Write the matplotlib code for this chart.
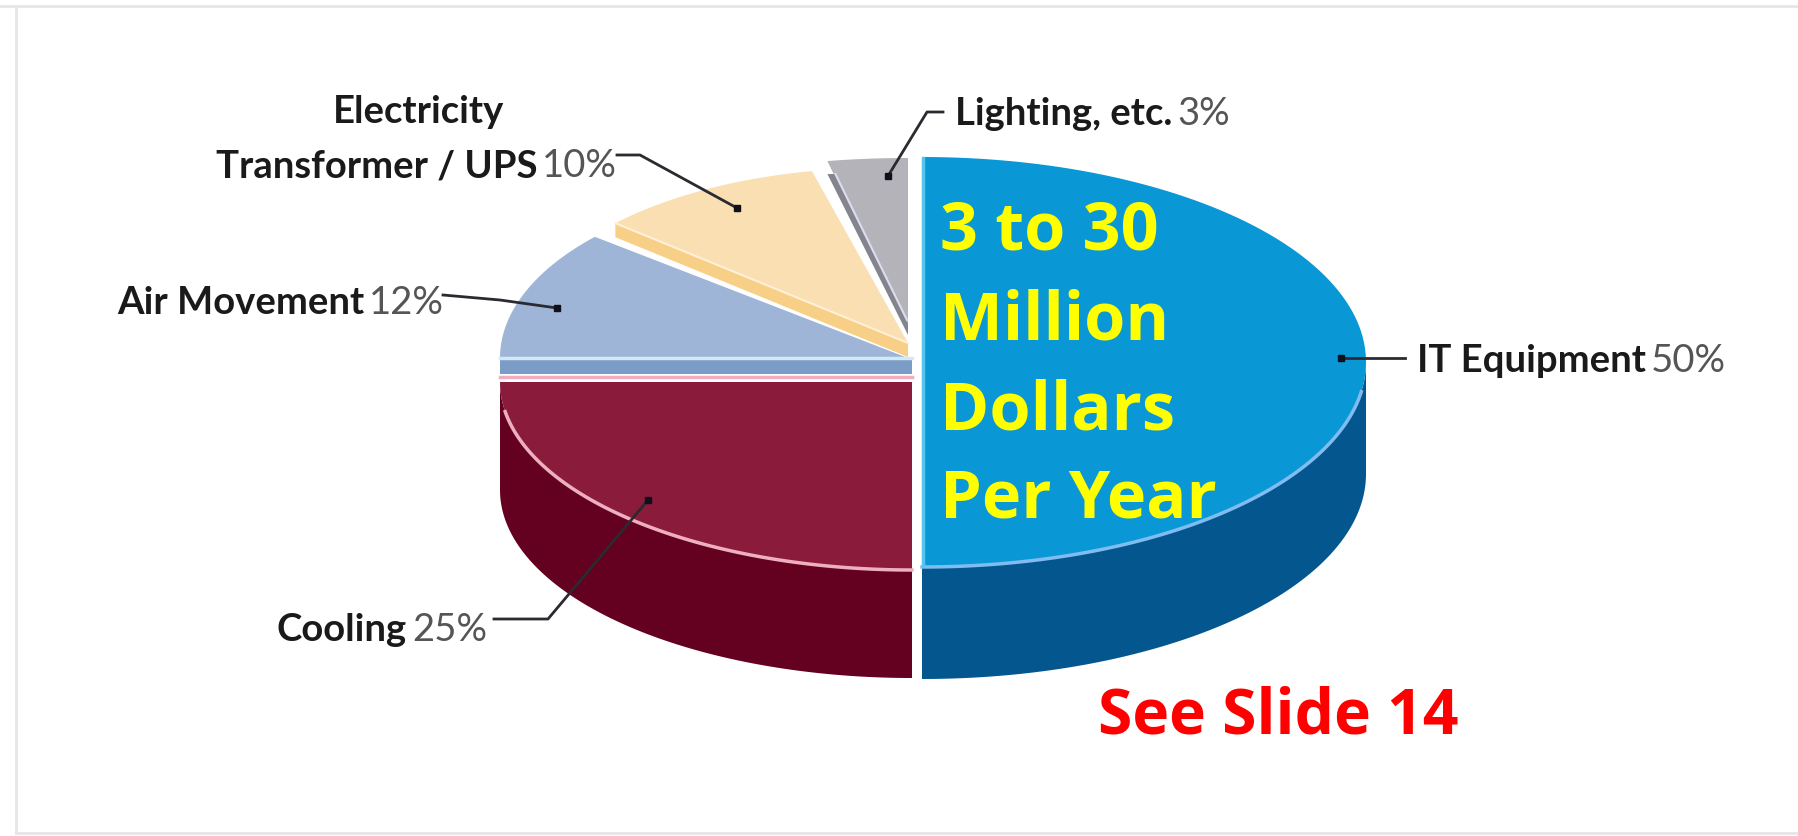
import numpy as np
import matplotlib
matplotlib.use("Agg")
import matplotlib.pyplot as plt
from matplotlib.patches import Polygon

# chart values, clockwise from 12 o'clock
names = ["IT Equipment", "Cooling", "Air Movement", "Transformer / UPS", "Lighting, etc."]
values = [50, 25, 12, 10, 3]

top_colors = ["#0a97d6", "#8a1b3b", "#9eb5d8", "#f9dfb2", "#b3b3b9"]
side_colors = ["#04568f", "#640020", "#7a9cc6", "#f8cf86", "#84848f"]
rim_colors = ["#7fbcf0", "#eeb0c0", "#d4e8f8", "#fff0d8", "#dcdcee"]

# each slice has its own ellipse and tip, the picture is a hand drawn 3d pie
centers = [(922, 362), (912, 382), (850, 358), (880, 343), (908, 330)]
radii = [(444, 205), (412, 188), (350, 177), (363, 175), (430, 172)]
tips = [(922, 362), (912, 382), (908, 358), (908, 343), (908, 330)]
depths = [112, 108, 16, 14, 0]

overlay_lines = ["3 to 30", "Million", "Dollars", "Per Year"]
overlay_base = [249, 340, 430, 518]

plt.rcParams["font.family"] = ["Lato", "Liberation Sans", "DejaVu Sans"]

fig = plt.figure(figsize=(17.99, 8.36), dpi=100, facecolor="white")
ax = fig.add_axes([0, 0, 1, 1])
ax.set_xlim(0, 1799)
ax.set_ylim(836, 0)
ax.axis("off")

# the slide frame
ax.plot([0, 1799], [6, 6], color="#e6e6e6", lw=2)
ax.plot([16, 16], [6, 833], color="#e6e6e6", lw=2)
ax.plot([16, 1799], [833, 833], color="#e6e6e6", lw=2)


def arc(i, t0, t1, n=120, dy=0):
    t = np.radians(np.linspace(t0, t1, n))
    cx, cy = centers[i]
    rx, ry = radii[i]
    return np.column_stack([cx + rx * np.sin(t), cy - ry * np.cos(t) + dy])


edges = np.concatenate([[0], np.cumsum(values)]) * 3.6

# back to front
for i in [4, 3, 2, 1, 0]:
    t0, t1 = edges[i], edges[i + 1]
    tx, ty = tips[i]
    top = arc(i, t0, t1)
    a = top[0]

    ax.add_patch(Polygon(np.vstack([[tx, ty], top]), closed=True,
                         fc=top_colors[i], ec="none", zorder=3))

    if i <= 1:
        # round outer wall, the IT slice only shows it on the lower quarter
        t_a = t0 + 90 if i == 0 else t0
        upper = arc(i, t_a, t1)
        lower = arc(i, t_a, t1, dy=depths[i])
        ax.add_patch(Polygon(np.vstack([upper, lower[::-1]]), closed=True,
                             fc=side_colors[i], ec="none", zorder=2))
        rim = arc(i, t_a, t1)
        rim = rim[rim[:, 1] > ty + 28]
        ax.plot(rim[:, 0], rim[:, 1], color=rim_colors[i], lw=2.5, zorder=4)
    elif i == 2:
        # flat front cut showing under the blue slice
        left = a[0]
        ax.add_patch(Polygon([(left, ty), (tx + 4, ty), (tx + 4, ty + depths[i]), (left, ty + depths[i])],
                             closed=True, fc=side_colors[i], ec="none", zorder=2))
        ax.plot([left, tx + 4], [ty, ty], color=rim_colors[i], lw=2.5, zorder=4)
        ax.plot([left, tx + 4], [ty + 19, ty + 19], color=rim_colors[1], lw=2.5, zorder=4)
    elif i == 3:
        ax.add_patch(Polygon([(a[0], a[1]), (tx, ty), (tx, ty + depths[i]), (a[0], a[1] + depths[i])],
                             closed=True, fc=side_colors[i], ec="none", zorder=2))
        ax.plot([a[0], tx], [a[1], ty], color=rim_colors[i], lw=1.5, zorder=4)
    else:
        # dark cut and white line down the left side of the grey slice
        ax.add_patch(Polygon([(a[0], a[1] + 13), (tx, ty + 5), (tx, ty - 6), (a[0] + 7, a[1] + 13)],
                             closed=True, fc=side_colors[i], ec="none", zorder=4))
        ax.plot([a[0] + 8, tx - 1], [a[1] + 13, ty - 10], color=rim_colors[i], lw=1.5, zorder=5)

# cyan lip on the IT slice
ax.plot([centers[0][0] + 1, centers[0][0] + 1], [158, 565], color="#55c4ee", lw=2.5, zorder=4)

# leader lines, ending on a small dot inside the slice
leaders = [
    [(1405, 358), (1341, 358)],
    [(494, 619), (548, 619), (648, 500)],
    [(443, 295), (500, 300), (557, 308)],
    [(617, 155), (640, 155), (737, 208)],
    [(943, 112), (927, 112), (888, 176)],
]
for pts in leaders:
    xs = [p[0] for p in pts]
    ys = [p[1] for p in pts]
    ax.plot(xs, ys, color="#2a2a30", lw=2, zorder=6)
    ax.plot(xs[-1], ys[-1], "s", color="#101018", ms=5, zorder=6)

label_right = [1726, 487, 444, 617, 1230]
label_y = [361, 630, 303, 166, 114]
label_gap = 5
label_size = 27.5

for name, v, xr, y in zip(names, values, label_right, label_y):
    pct = ax.text(xr, y, f"{v}%", ha="right", va="center", fontsize=label_size, color="#555555", zorder=7)
    fig.canvas.draw()
    box = pct.get_window_extent().transformed(ax.transData.inverted())
    ax.text(box.x0 - label_gap, y, name, ha="right", va="center", fontsize=label_size,
            fontweight="bold", color="#1a1a1a", zorder=7)

ax.text(419, 112, "Electricity", ha="center", va="center", fontsize=label_size,
        fontweight="bold", color="#1a1a1a", zorder=7)

for line, base in zip(overlay_lines, overlay_base):
    ax.text(940, base, line, ha="left", va="baseline", fontsize=48, fontweight="bold",
            color="#ffff00", family=["Open Sans", "DejaVu Sans"], zorder=8)

ax.text(1098, 734, "See Slide 14", ha="left", va="baseline", fontsize=45, fontweight="bold",
        color="#ff0000", family=["Open Sans", "DejaVu Sans"], zorder=8)

fig.savefig("out.png", dpi=100, facecolor="white")
